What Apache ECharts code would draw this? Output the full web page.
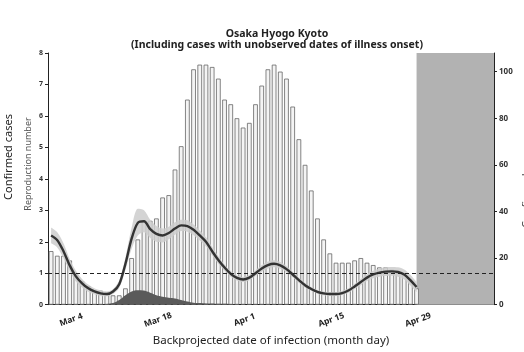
<!DOCTYPE html>
<html>
<head>
<meta charset="utf-8">
<script src="https://cdn.jsdelivr.net/npm/echarts@6/dist/echarts.min.js"></script>
<style>
  html, body { margin: 0; padding: 0; background: #fff; }
  #chart { width: 524px; height: 352px; }
</style>
</head>
<body>
<div id="chart"></div>
<script>
// day labels Mar 1 .. May 11
var months = [['Mar', 31], ['Apr', 30], ['May', 11]];
var days = [];
months.forEach(function (m) {
  for (var d = 1; d <= m[1]; d++) days.push(m[0] + ' ' + d);
});
var tickLabels = ['Mar 4', 'Mar 18', 'Apr 1', 'Apr 15', 'Apr 29'];

// daily confirmed cases (right axis), Mar 1 .. Apr 29
var cases = [23, 21, 21, 19, 13, 10, 8, 6, 6, 5, 4, 4, 7, 20, 28, 36, 36, 37, 46, 47,
  58, 68, 88, 101, 103, 103, 102, 97, 88, 86, 80, 76, 78, 86, 94, 101, 103, 100, 97, 85,
  71, 60, 49, 37, 28, 22, 18, 18, 18, 19, 20, 18, 17, 16, 16, 15, 14, 13, 10, 7];

// reproduction number and its interval (left axis)
var rt = [2.2, 2.05, 1.7, 1.25, 0.9, 0.68, 0.52, 0.42, 0.36, 0.34, 0.42, 0.65, 1.3, 2.1, 2.6, 2.65, 2.4, 2.25, 2.2, 2.28,
  2.42, 2.52, 2.5, 2.38, 2.2, 2.0, 1.7, 1.42, 1.18, 0.98, 0.85, 0.8, 0.86, 1.0, 1.15, 1.26, 1.3, 1.25, 1.13, 0.96,
  0.78, 0.62, 0.5, 0.41, 0.36, 0.34, 0.34, 0.37, 0.45, 0.58, 0.72, 0.86, 0.96, 1.02, 1.05, 1.06, 1.04, 0.96, 0.78, 0.56];
var rtHigh = [2.45, 2.3, 1.95, 1.45, 1.08, 0.82, 0.64, 0.52, 0.45, 0.42, 0.5, 0.78, 1.5, 2.45, 3.05, 3.0, 2.7, 2.5, 2.42, 2.48,
  2.62, 2.7, 2.68, 2.55, 2.36, 2.14, 1.83, 1.54, 1.28, 1.07, 0.93, 0.88, 0.94, 1.09, 1.25, 1.37, 1.41, 1.36, 1.23, 1.05,
  0.86, 0.69, 0.56, 0.47, 0.42, 0.4, 0.4, 0.44, 0.52, 0.66, 0.82, 0.97, 1.08, 1.15, 1.19, 1.2, 1.19, 1.12, 0.95, 0.72];
var rtLow = [1.95, 1.82, 1.48, 1.06, 0.74, 0.55, 0.41, 0.33, 0.28, 0.27, 0.34, 0.53, 1.1, 1.78, 2.2, 2.3, 2.12, 2.0, 1.98, 2.08,
  2.22, 2.34, 2.32, 2.21, 2.04, 1.86, 1.57, 1.3, 1.08, 0.89, 0.77, 0.72, 0.78, 0.91, 1.05, 1.15, 1.19, 1.14, 1.03, 0.87,
  0.7, 0.55, 0.44, 0.35, 0.3, 0.28, 0.28, 0.31, 0.38, 0.5, 0.62, 0.75, 0.84, 0.89, 0.91, 0.92, 0.89, 0.8, 0.61, 0.4];

// imported-case contribution (dark area at the bottom)
var imported = [0, 0, 0, 0, 0, 0, 0, 0, 0, 0.02, 0.05, 0.15, 0.3, 0.42, 0.46, 0.45, 0.38, 0.3, 0.25, 0.22,
  0.2, 0.15, 0.1, 0.06, 0.05, 0.04, 0.04, 0.03, 0.03, 0.02, 0, 0, 0, 0, 0, 0, 0, 0, 0, 0,
  0, 0, 0, 0, 0, 0, 0, 0, 0, 0, 0, 0, 0, 0, 0, 0, 0, 0, 0, 0];

var bandWidth = rtHigh.map(function (v, i) { return +(v - rtLow[i]).toFixed(3); });
var font = 'Noto Sans';
var showTick = function (i, v) { return tickLabels.indexOf(v) >= 0; };

var chart = echarts.init(document.getElementById('chart'));
chart.setOption({
  animation: false,
  textStyle: { fontFamily: font },
  title: {
    text: 'Osaka Hyogo Kyoto\n(Including cases with unobserved dates of illness onset)',
    left: 272, top: 24, textAlign: 'center',
    textStyle: { fontSize: 10.5, fontWeight: 'bold', lineHeight: 11, color: '#222', fontFamily: font }
  },
  grid: { left: 48, right: 30, top: 53, bottom: 43 },
  xAxis: {
    type: 'category',
    data: days,
    boundaryGap: true,
    name: 'Backprojected date of infection (month day)',
    nameLocation: 'middle',
    nameGap: 29,
    nameTextStyle: { fontSize: 11.5, color: '#222' },
    axisLine: { lineStyle: { color: '#222', width: 1 } },
    axisTick: { alignWithLabel: true, length: 3, interval: showTick },
    axisLabel: {
      rotate: 20, fontSize: 8.5, fontWeight: 'bold', color: '#222', margin: 11,
      align: 'center', verticalAlign: 'top', interval: showTick
    },
    splitLine: { show: false }
  },
  yAxis: [
    {
      type: 'value', min: 0, max: 8, interval: 1, position: 'left',
      axisLine: { show: true, lineStyle: { color: '#222' } },
      axisTick: { show: true, length: 3 },
      axisLabel: { fontSize: 7, fontWeight: 'bold', color: '#333', margin: 5 },
      splitLine: { show: false }
    },
    {
      type: 'value', min: 0, max: 108, interval: 20, position: 'right',
      axisLine: { show: true, lineStyle: { color: '#222' } },
      axisTick: { show: true, length: 3 },
      axisLabel: { fontSize: 8, fontWeight: 'bold', color: '#333', margin: 5, showMaxLabel: false },
      splitLine: { show: false }
    }
  ],
  graphic: [
    { type: 'text', x: 9, y: 157, rotation: Math.PI / 2,
      style: { text: 'Confirmed cases', font: '11px "Noto Sans"', fill: '#222', align: 'center', verticalAlign: 'middle' } },
    { type: 'text', x: 28, y: 164, rotation: Math.PI / 2,
      style: { text: 'Reproduction number', font: '9px "Noto Sans"', fill: '#555', align: 'center', verticalAlign: 'middle' } },
    { type: 'text', x: 527, y: 185, rotation: Math.PI / 2,
      style: { text: 'Confirmed cases', font: '11px "Noto Sans"', fill: '#444', align: 'center', verticalAlign: 'middle' } }
  ],
  series: [
    {
      name: 'Confirmed cases', type: 'bar', yAxisIndex: 1, data: cases, z: 1,
      barCategoryGap: '25%',
      itemStyle: { color: '#f4f4f4', borderColor: '#666', borderWidth: 0.8 }
    },
    {
      name: 'low', type: 'line', data: rtLow, stack: 'ci', symbol: 'none', z: 2,
      lineStyle: { width: 0 }, smooth: 0.3
    },
    {
      name: 'band', type: 'line', data: bandWidth, stack: 'ci', symbol: 'none', z: 2,
      lineStyle: { width: 0 }, areaStyle: { color: '#cccccc', opacity: 0.85 }, smooth: 0.3
    },
    {
      name: 'imported', type: 'line', data: imported, symbol: 'none', z: 3,
      lineStyle: { width: 0 }, areaStyle: { color: '#5a5a5a', opacity: 1 }, smooth: 0.3
    },
    {
      name: 'Rt', type: 'line', data: rt, symbol: 'none', z: 4, smooth: 0.3,
      lineStyle: { color: '#333', width: 2.4 },
      markLine: {
        silent: true, symbol: 'none', label: { show: false },
        lineStyle: { color: '#222', type: [4, 3], width: 1 },
        data: [{ yAxis: 1 }]
      },
      markArea: {
        silent: true,
        itemStyle: { color: '#b2b2b2', opacity: 1 },
        data: [[{ xAxis: 'Apr 29' }, { xAxis: Infinity }]]
      }
    }
  ]
});
</script>
</body>
</html>
